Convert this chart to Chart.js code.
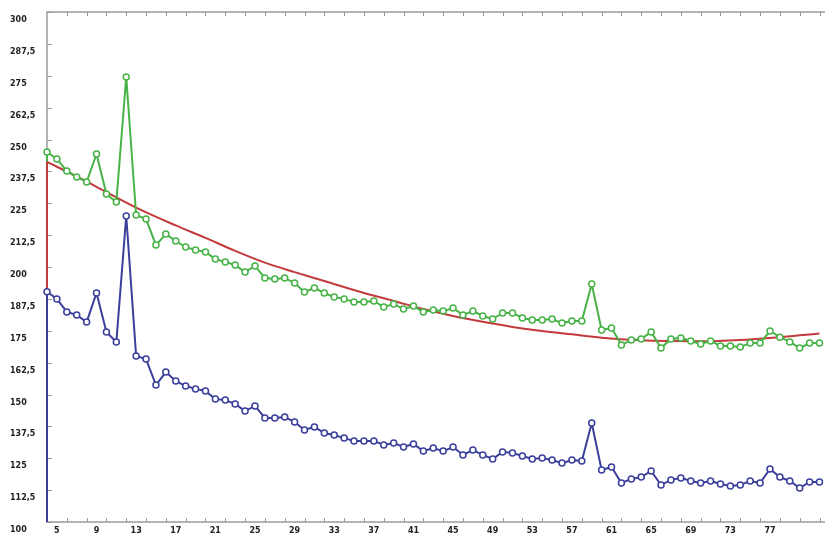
<!DOCTYPE html>
<html>
<head>
<meta charset="utf-8">
<title>Verlauf</title>
<script src="https://cdn.jsdelivr.net/npm/chart.js@4/dist/chart.umd.min.js"></script>
<style>
  html, body { margin: 0; padding: 0; background: #fff; }
  #wrap { width: 825px; height: 535px; }
</style>
</head>
<body>
<div id="wrap"><canvas id="chart"></canvas></div>
<script>
// run numbers along the x axis
var runs = [4, 5, 6, 7, 8, 9, 10, 11, 12, 13, 14, 15, 16, 17, 18, 19, 20, 21, 22, 23,
  24, 25, 26, 27, 28, 29, 30, 31, 32, 33, 34, 35, 36, 37, 38, 39, 40, 41, 42, 43,
  44, 45, 46, 47, 48, 49, 50, 51, 52, 53, 54, 55, 56, 57, 58, 59, 60, 61, 62, 63,
  64, 65, 66, 67, 68, 69, 70, 71, 72, 73, 74, 75, 76, 77, 78, 79, 80, 81, 82];

var upper = [245.1, 242.4, 237.6, 235.3, 233.3, 244.3, 228.6, 225.5, 274.5, 220.4,
  218.8, 208.6, 212.9, 210.2, 207.8, 206.7, 205.9, 203.1, 202.0, 200.8,
  198.0, 200.4, 195.7, 195.3, 195.7, 193.7, 190.2, 191.8, 189.8, 188.2,
  187.5, 186.3, 186.3, 186.7, 184.3, 185.5, 183.5, 184.7, 182.4, 183.1,
  182.7, 183.9, 181.2, 182.7, 180.8, 179.6, 182.0, 182.0, 180.0, 179.2,
  179.2, 179.6, 178.0, 178.8, 178.8, 193.3, 175.3, 176.1, 169.4, 171.4,
  171.8, 174.5, 168.2, 171.8, 172.2, 171.0, 169.8, 171.0, 169.0, 169.0,
  168.6, 170.2, 170.2, 174.9, 172.5, 170.6, 168.2, 170.2, 170.2];

var lower = [190.3, 187.5, 182.4, 181.2, 178.4, 189.8, 174.5, 170.6, 220.0, 165.1,
  163.9, 153.7, 158.8, 155.3, 153.3, 152.2, 151.4, 148.2, 147.8, 146.3,
  143.5, 145.5, 140.8, 140.8, 141.2, 139.2, 136.1, 137.3, 134.9, 134.1,
  132.9, 131.8, 131.8, 131.8, 130.2, 131.0, 129.4, 130.6, 127.8, 129.0,
  127.8, 129.4, 126.3, 128.2, 126.3, 124.7, 127.5, 127.1, 125.9, 124.7,
  125.1, 124.3, 123.1, 124.3, 123.9, 138.8, 120.4, 121.6, 115.3, 116.9,
  117.6, 120.0, 114.5, 116.5, 117.3, 116.1, 115.3, 116.1, 114.9, 114.1,
  114.5, 116.1, 115.3, 120.8, 117.6, 116.1, 113.3, 115.7, 115.7];

// trend curve, sampled
var trendX = [4, 7, 10, 13, 17, 20, 23, 26, 29, 32, 36, 39, 42, 45, 48, 51,
  54, 57, 60, 64, 67, 70, 74, 77, 80, 82];
var trendY = [241.2, 235.5, 229.4, 223.3, 216.3, 211.4, 206.3, 201.7, 198.0, 194.5,
  189.8, 186.7, 183.5, 180.8, 178.5, 176.5, 174.9, 173.6, 172.3, 171.3,
  171.0, 170.9, 171.4, 172.2, 173.2, 173.9];

var xTickLabels = [5, 9, 13, 17, 21, 25, 29, 33, 37, 41, 45, 49, 53, 57, 61, 65, 69, 73, 77];
var yTickLabels = [100, 112.5, 125, 137.5, 150, 162.5, 175, 187.5, 200,
  212.5, 225, 237.5, 250, 262.5, 275, 287.5, 300];

var GREEN = "#47b347";
var BLUE = "#3a3f9b";
var RED = "#c23a3c";
var AXIS = "#9a9a9a";
var labelFont = { family: "DejaVu Sans", size: 8, weight: "bold" };

function pairs(xs, ys) {
  return xs.map(function(x, i) {
    return { x: x, y: ys[i] };
  });
}

// frame, inward tick marks and the drop lines at the left edge
var frameAxes = {
  id: "frameAxes",
  beforeDatasetsDraw: function(chart) {
    var ctx = chart.ctx;
    var area = chart.chartArea;
    var xs = chart.scales.x;
    var ys = chart.scales.y;
    ctx.save();
    ctx.strokeStyle = AXIS;
    ctx.lineWidth = 1.5;
    ctx.beginPath();
    ctx.moveTo(chart.width, area.top);
    ctx.lineTo(area.left, area.top);
    ctx.lineTo(area.left, area.bottom);
    ctx.lineTo(chart.width, area.bottom);
    ctx.stroke();

    ctx.lineWidth = 1;
    ctx.beginPath();
    for (var v = xs.min + 2; v <= xs.max; v += 2) {
      var px = Math.round(xs.getPixelForValue(v)) + 0.5;
      ctx.moveTo(px, area.bottom);
      ctx.lineTo(px, area.bottom - 4);
      ctx.moveTo(px, area.top);
      ctx.lineTo(px, area.top + 4);
    }
    yTickLabels.forEach(function(t) {
      var py = Math.round(ys.getPixelForValue(t)) + 0.5;
      ctx.moveTo(area.left, py);
      ctx.lineTo(area.left + 5, py);
    });
    ctx.stroke();

    // each series drops from its first value to the base
    ctx.lineWidth = 2;
    [[upper[0], GREEN], [trendY[0], RED], [lower[0], BLUE]].forEach(function(d) {
      ctx.strokeStyle = d[1];
      ctx.beginPath();
      ctx.moveTo(area.left, area.bottom);
      ctx.lineTo(area.left, ys.getPixelForValue(d[0]));
      ctx.stroke();
    });
    ctx.restore();
  }
};

new Chart(document.getElementById("chart"), {
  type: "line",
  data: {
    datasets: [
      {
        label: "Reihe 1",
        data: pairs(runs, upper),
        borderColor: GREEN,
        borderWidth: 2,
        pointRadius: 3,
        pointBorderWidth: 1.5,
        pointBorderColor: GREEN,
        pointBackgroundColor: "#fff",
        tension: 0,
        clip: false,
        order: 1
      },
      {
        label: "Trend",
        data: pairs(trendX, trendY),
        borderColor: RED,
        borderWidth: 2,
        pointRadius: 0,
        cubicInterpolationMode: "monotone",
        clip: false,
        order: 2
      },
      {
        label: "Reihe 2",
        data: pairs(runs, lower),
        borderColor: BLUE,
        borderWidth: 2,
        pointRadius: 3,
        pointBorderWidth: 1.5,
        pointBorderColor: BLUE,
        pointBackgroundColor: "#fff",
        tension: 0,
        clip: false,
        order: 0
      }
    ]
  },
  options: {
    responsive: true,
    maintainAspectRatio: false,
    animation: false,
    layout: { padding: { left: 10, top: 12, right: 3, bottom: 0 } },
    plugins: {
      legend: { display: false },
      tooltip: { enabled: false }
    },
    scales: {
      x: {
        type: "linear",
        min: 4,
        max: 82,
        grid: { display: false, drawTicks: false },
        border: { display: false },
        afterBuildTicks: function(s) {
          s.ticks = xTickLabels.map(function(v) { return { value: v }; });
        },
        afterFit: function(s) { s.height = 13; },
        ticks: {
          autoSkip: false,
          maxRotation: 0,
          padding: 4,
          color: "#222",
          font: labelFont,
          callback: function(v) { return String(v); }
        }
      },
      y: {
        min: 100,
        max: 300,
        grid: { display: false, drawTicks: false },
        border: { display: false },
        afterBuildTicks: function(s) {
          s.ticks = yTickLabels.map(function(v) { return { value: v }; });
        },
        afterFit: function(s) { s.width = 37; },
        ticks: {
          crossAlign: "far",
          labelOffset: 8,
          color: "#222",
          font: labelFont,
          callback: function(v) { return String(v).replace(".", ","); }
        }
      }
    }
  },
  plugins: [frameAxes]
});
</script>
</body>
</html>
